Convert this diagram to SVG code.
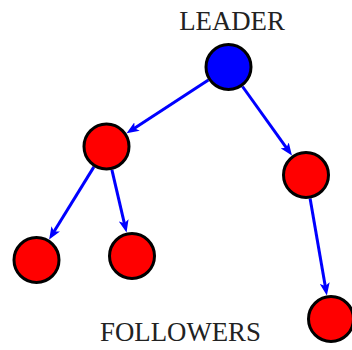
<svg xmlns="http://www.w3.org/2000/svg" width="352" height="350" viewBox="0 0 352 350">
<style>
.node{stroke:#000;stroke-width:3}
.leader{fill:#0000ff}
.follower{fill:#ff0000}
.edge{stroke:#0000ff;stroke-width:3;fill:none;marker-end:url(#arr)}
.lbl{font-family:"Liberation Serif","DejaVu Serif",serif;font-size:26.8px;fill:#222}
</style>
<defs>
<marker id="arr" markerUnits="userSpaceOnUse" markerWidth="13" markerHeight="10" viewBox="0 0 13 10" refX="4" refY="5" orient="auto">
<path d="M0,0 L12.5,5 L0,10 L3,5 z" fill="#0000ff"/>
</marker>
</defs>
<rect width="352" height="350" fill="#fff"/>
<g id="connectors">
<line class="edge" x1="208.4" y1="80.1" x2="133.7" y2="128.7"/>
<line class="edge" x1="242.5" y1="86.5" x2="287.0" y2="148.6"/>
<line class="edge" x1="93.9" y1="166.9" x2="53.6" y2="232.3"/>
<line class="edge" x1="111.9" y1="169.9" x2="124.6" y2="224.3"/>
<line class="edge" x1="310.1" y1="198.6" x2="325.4" y2="287.0"/>
</g>
<g id="leader"><circle class="node leader" cx="228.5" cy="67" r="22.5"/></g>
<g id="n1"><circle class="node follower" cx="106.5" cy="146.5" r="22.5"/></g>
<g id="n2"><circle class="node follower" cx="306" cy="175" r="22.5"/></g>
<g id="n3"><circle class="node follower" cx="36.5" cy="260" r="22.5"/></g>
<g id="n4"><circle class="node follower" cx="132" cy="256" r="22.5"/></g>
<g id="n5"><circle class="node follower" cx="331" cy="319" r="22.5"/></g>
<g id="label-leader"><text class="lbl" x="232" y="30" text-anchor="middle">LEADER</text></g>
<g id="label-followers"><text class="lbl" x="180.5" y="341" text-anchor="middle">FOLLOWERS</text></g>
</svg>
